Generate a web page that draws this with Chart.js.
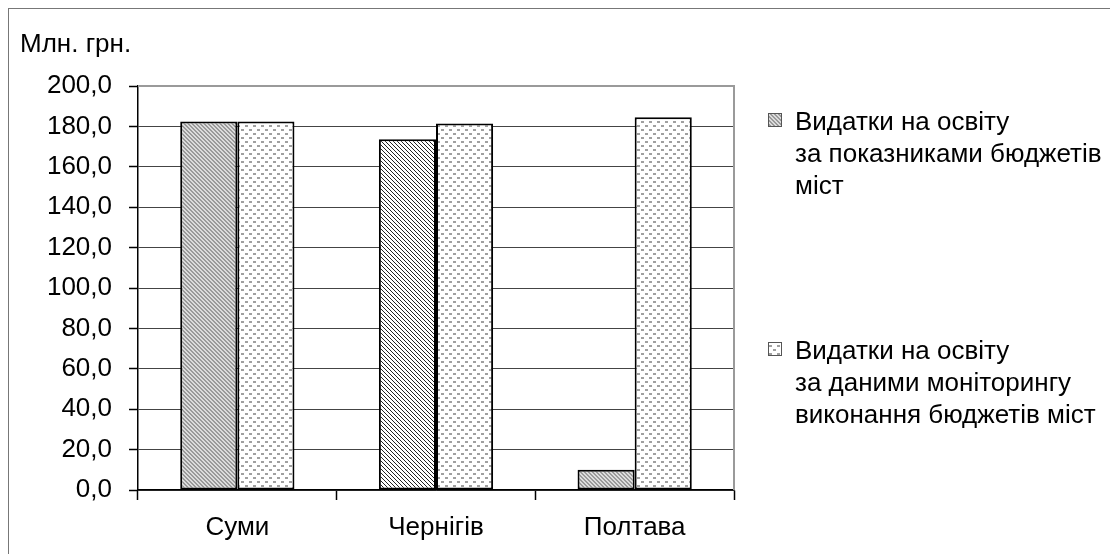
<!DOCTYPE html>
<html>
<head>
<meta charset="utf-8">
<script src="https://cdn.jsdelivr.net/npm/chart.js@4"></script>
<style>
    html, body { margin: 0; padding: 0; background: #fff; overflow: hidden; }
    #frame {
        position: absolute; left: 8px; top: 8px;
        width: 1130px; height: 570px;
        border: 1px solid #777;
    }
    #wrap { position: absolute; left: 0; top: 0; width: 1110px; height: 554px; }
</style>
</head>
<body>
<div id="frame"></div>
<div id="wrap"><canvas id="educationChart"></canvas></div>
<script>
// Chart data
const categories = ['Суми', 'Чернігів', 'Полтава'];
const budgetValues = [182.4, 173.7, 10.0];
const monitoringValues = [182.4, 181.4, 184.5];
const seriesLabels = [
    ['Видатки на освіту', 'за показниками бюджетів', 'міст'],
    ['Видатки на освіту', 'за даними моніторингу', 'виконання бюджетів міст']
];
const yMin = 0;
const yMax = 200;
const yStep = 20;
const unitLabel = 'Млн. грн.';

const FONT = "'Liberation Sans', Arial, sans-serif";
const FONT_SIZE = 26;

/**
 * Build a small repeating canvas pattern
 */
function makePattern(size, paint) {
    const c = document.createElement('canvas');
    c.width = size;
    c.height = size;
    const g = c.getContext('2d');
    paint(g, size);
    return g.createPattern(c, 'repeat');
}

// grey downward diagonal
const greyStripes = makePattern(4, (g, s) => {
    g.fillStyle = '#dcdcdc';
    g.fillRect(0, 0, s, s);
    g.fillStyle = '#9a9a9a';
    for (let i = 0; i < s; i++) {
        g.fillRect(i, i, 1, 1);
        g.fillRect((i + 1) % s, i, 1, 1);
    }
});

// black downward diagonal on white
const blackStripes = makePattern(4, (g, s) => {
    g.fillStyle = '#ffffff';
    g.fillRect(0, 0, s, s);
    g.fillStyle = '#222';
    for (let i = 0; i < s; i++) {
        g.fillRect(i, i, 1, 1);
    }
});

// dotted fill
const dots = makePattern(8, (g, s) => {
    g.fillStyle = '#ffffff';
    g.fillRect(0, 0, s, s);
    g.fillStyle = '#a0a0a0';
    g.fillRect(1, 1, 3, 2);
    g.fillRect(5, 5, 3, 2);
});

const formatTick = v => Number(v).toFixed(1).replace('.', ',');

// plot frame, unit label and legend
const decorPlugin = {
    id: 'decor',
    beforeDatasetsDraw(chart) {
        const a = chart.chartArea;
        const ctx = chart.ctx;
        ctx.save();
        ctx.strokeStyle = '#9a9a9a';
        ctx.lineWidth = 2;
        ctx.beginPath();
        ctx.moveTo(a.left, a.top);
        ctx.lineTo(a.right, a.top);
        ctx.lineTo(a.right, a.bottom);
        ctx.stroke();
        ctx.restore();
    },
    afterDraw(chart) {
        const a = chart.chartArea;
        const ctx = chart.ctx;
        ctx.save();
        ctx.fillStyle = '#000';
        ctx.font = FONT_SIZE + 'px ' + FONT;
        ctx.textBaseline = 'alphabetic';
        ctx.textAlign = 'left';
        ctx.fillText(unitLabel, 20, 52);

        // legend
        const boxX = a.right + 34;
        const textX = a.right + 61;
        const lineH = 32;
        const firstBaselines = [a.top + 44, a.top + 273];
        chart.data.datasets.forEach((ds, i) => {
            const lines = seriesLabels[i];
            const y0 = firstBaselines[i];
            ctx.fillStyle = i === 0 ? greyStripes : dots;
            ctx.fillRect(boxX, y0 - 17, 14, 14);
            ctx.strokeStyle = '#555';
            ctx.lineWidth = 1;
            ctx.strokeRect(boxX + 0.5, y0 - 16.5, 13, 13);
            ctx.fillStyle = '#000';
            lines.forEach((t, k) => ctx.fillText(t, textX, y0 + k * lineH));
        });
        ctx.restore();
    }
};

const ctx = document.getElementById('educationChart').getContext('2d');
const chart = new Chart(ctx, {
    type: 'bar',
    data: {
        labels: categories,
        datasets: [{
            label: seriesLabels[0].join(' '),
            data: budgetValues,
            backgroundColor: [greyStripes, blackStripes, greyStripes],
            borderColor: '#000',
            borderWidth: 2,
            borderSkipped: false
        }, {
            label: seriesLabels[1].join(' '),
            data: monitoringValues,
            backgroundColor: dots,
            borderColor: '#000',
            borderWidth: 2,
            borderSkipped: false
        }]
    },
    options: {
        responsive: true,
        maintainAspectRatio: false,
        animation: false,
        datasets: {
            bar: { categoryPercentage: 0.575, barPercentage: 1 }
        },
        layout: {
            padding: { left: 0, top: 86, right: 376, bottom: 0 }
        },
        plugins: {
            legend: { display: false },
            title: { display: false },
            tooltip: { enabled: false }
        },
        scales: {
            x: {
                afterFit: s => { s.height = 64; },
                grid: {
                    offset: true,
                    drawOnChartArea: false,
                    drawTicks: true,
                    tickLength: 10,
                    tickColor: '#000',
                    tickWidth: 1.5
                },
                border: { color: '#000', width: 1.5 },
                ticks: {
                    color: '#000',
                    padding: 12,
                    font: { family: FONT, size: FONT_SIZE }
                }
            },
            y: {
                min: yMin,
                max: yMax,
                afterFit: s => { s.width = 138; },
                grid: {
                    color: c => (c.tick && c.tick.value === yMax) ? 'rgba(0,0,0,0)' : '#444',
                    borderDash: [3, 3],
                    lineWidth: 1,
                    tickLength: 9,
                    tickColor: '#000',
                    tickWidth: 1.5,
                    tickBorderDash: []
                },
                border: { color: '#000', width: 1.5 },
                ticks: {
                    stepSize: yStep,
                    color: '#000',
                    padding: 17,
                    font: { family: FONT, size: FONT_SIZE },
                    callback: formatTick
                }
            }
        }
    },
    plugins: [decorPlugin]
});
</script>
</body>
</html>
